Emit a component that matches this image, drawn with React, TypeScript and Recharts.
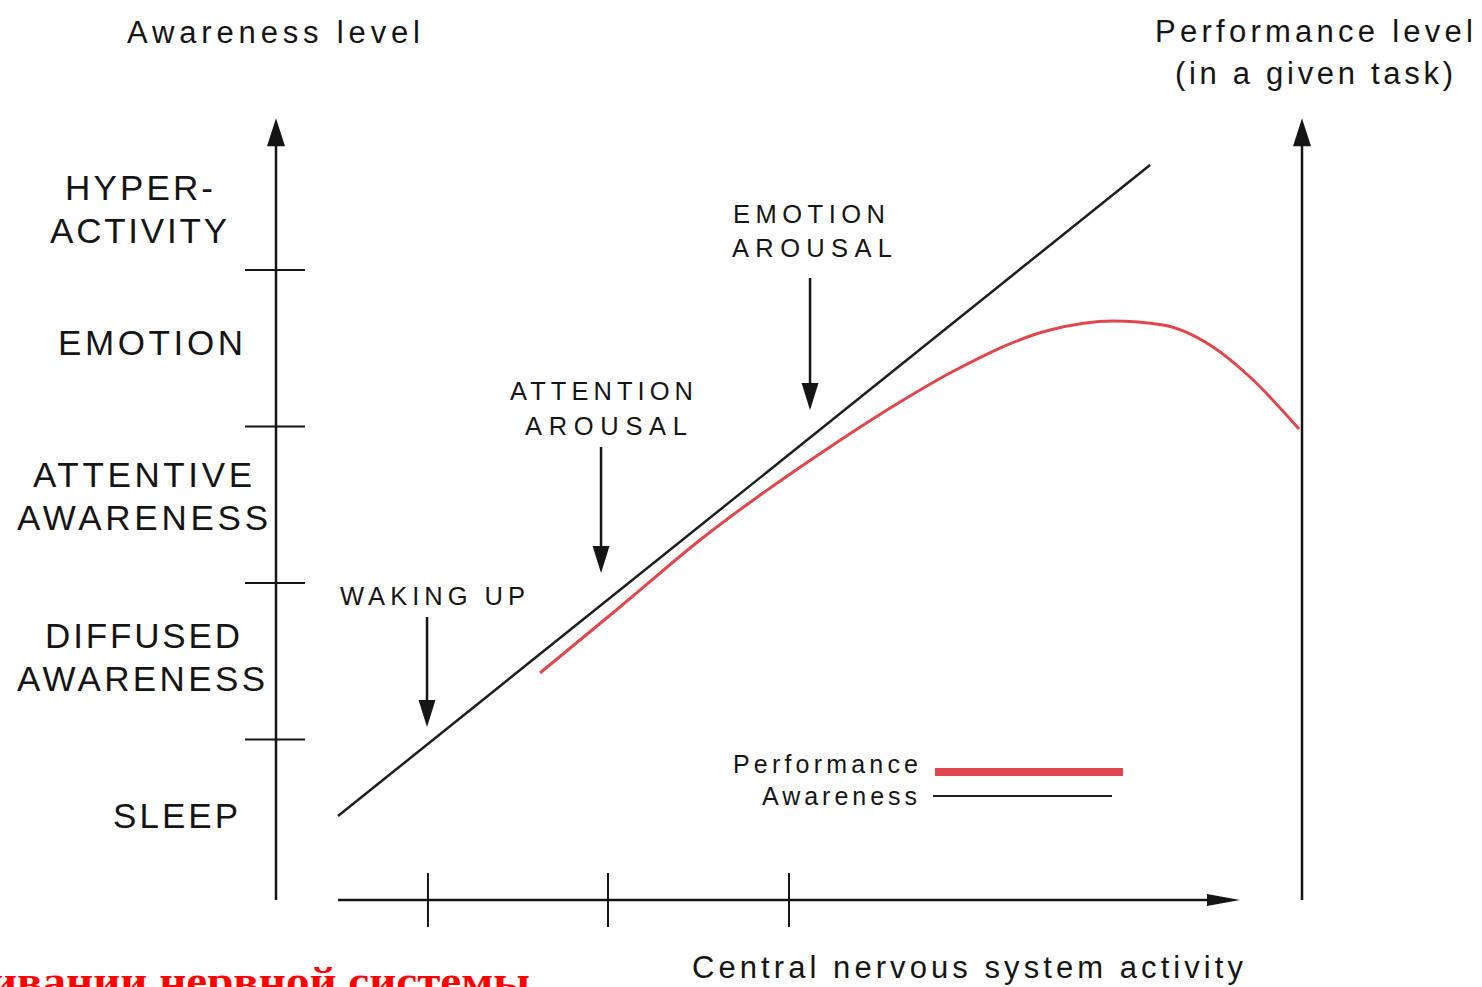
import React from 'react';
import { LineChart, Line, XAxis, YAxis, ReferenceLine, Legend, Customized } from 'recharts';

const W = 1482;
const H = 987;
const FONT = '"Liberation Sans", Arial, sans-serif';
const INK = '#151515';

// ---- data ----
const awarenessData = [
  { x: 6.04, awareness: 10.23 },
  { x: 85.19, awareness: 93.42 },
];

const performanceData = [
  { x: 25.73, performance: 28.51 },
  { x: 33.53, performance: 36.94 },
  { x: 41.33, performance: 45.5 },
  { x: 54.29, performance: 57.64 },
  { x: 60.82, performance: 63.13 },
  { x: 65.69, performance: 66.84 },
  { x: 75.44, performance: 72.33 },
  { x: 81.58, performance: 73.48 },
  { x: 86.45, performance: 72.97 },
  { x: 91.03, performance: 70.42 },
  { x: 94.93, performance: 66.33 },
  { x: 99.71, performance: 59.68 },
];

const levelBoundaries = [20, 40, 60, 80];
const levelTicks = [10.3, 30.5, 51.1, 70.7, 87.8];
const levelNames = [
  ['SLEEP'],
  ['DIFFUSED', 'AWARENESS'],
  ['ATTENTIVE', 'AWARENESS'],
  ['EMOTION'],
  ['HYPER-', 'ACTIVITY'],
];
const stageTicks = [14.81, 32.36, 50.0];
const stageArrows = [
  { x: 14.72, from: 35.66, to: 21.6 },
  { x: 31.68, from: 57.38, to: 41.28 },
  { x: 52.05, from: 78.98, to: 62.11 },
];
const stageNames = [['WAKING UP'], ['ATTENTION', 'AROUSAL'], ['EMOTION', 'AROUSAL']];

const X_DOMAIN: [number, number] = [0, 100];
const Y_DOMAIN: [number, number] = [-0.5, 100];

// ---- layout (styles/positions of text only) ----
const levelLayout = [
  { cx: [175.5], w: [125] },
  { cx: [142.5, 141], w: [195, 248] },
  { cx: [142.5, 142.5], w: [219, 251] },
  { cx: [150.5], w: [185] },
  { cx: [139, 138.5], w: [148, 177] },
];
const stageLayout = [
  [{ x1: 340, x2: 525, y: 605 }],
  [
    { x1: 510, x2: 693, y: 400 },
    { x1: 525, x2: 687, y: 435 },
  ],
  [
    { x1: 733, x2: 885, y: 223 },
    { x1: 732, x2: 892, y: 257 },
  ],
];
const titles = [
  { t: 'Awareness level', x1: 127, x2: 420, y: 43 },
  { t: 'Performance level', x1: 1155, x2: 1473, y: 42 },
  { t: '(in a given task)', x1: 1175, x2: 1453, y: 84 },
  { t: 'Central nervous system activity', x1: 692, x2: 1243, y: 978 },
];

const arrowShape = (head: number, half: number, sw: number) => (p: any) => {
  const { x1, y1, x2, y2 } = p;
  const dx = x2 - x1;
  const dy = y2 - y1;
  const len = Math.hypot(dx, dy) || 1;
  const ux = dx / len;
  const uy = dy / len;
  const bx = x2 - ux * head;
  const by = y2 - uy * head;
  const px = -uy * half;
  const py = ux * half;
  return (
    <g>
      <line x1={x1} y1={y1} x2={bx + ux * 2} y2={by + uy * 2} stroke={INK} strokeWidth={sw} />
      <polygon points={`${x2},${y2} ${bx + px},${by + py} ${bx - px},${by - py}`} fill={INK} />
    </g>
  );
};

const LevelTick = (props: any) => {
  const { y, payload } = props;
  const i = levelTicks.indexOf(payload.value);
  if (i < 0) return null;
  const lines = levelNames[i];
  const lay = levelLayout[i];
  const n = lines.length;
  return (
    <g>
      {lines.map((t, k) => (
        <text
          key={k}
          x={lay.cx[k]}
          y={y + 12.5 + (k - (n - 1) / 2) * 43}
          textAnchor="middle"
          textLength={lay.w[k]}
          lengthAdjust="spacing"
          fontSize={35}
          fontFamily={FONT}
          fill={INK}
        >
          {t}
        </text>
      ))}
    </g>
  );
};

const Annotations = () => (
  <g>
    {titles.map((t, i) => (
      <text
        key={'t' + i}
        x={t.x1}
        y={t.y}
        textLength={t.x2 - t.x1}
        lengthAdjust="spacing"
        fontSize={31}
        fontFamily={FONT}
        fill={INK}
      >
        {t.t}
      </text>
    ))}
    {stageNames.map((lines, i) =>
      lines.map((t, k) => {
        const l = stageLayout[i][k];
        return (
          <text
            key={'s' + i + '-' + k}
            x={l.x1}
            y={l.y}
            textLength={l.x2 - l.x1}
            lengthAdjust="spacing"
            fontSize={25.5}
            fontFamily={FONT}
            fill={INK}
          >
            {t}
          </text>
        );
      })
    )}
    <text
      x={-10}
      y={995}
      textLength={540}
      lengthAdjust="spacingAndGlyphs"
      fontSize={40}
      fontWeight="bold"
      fontFamily='"Liberation Serif", "Times New Roman", serif'
      fill="#ff0000"
    >
      ивании нервной системы
    </text>
  </g>
);

const LegendContent = (props: any) => {
  const payload: any[] = props.payload || [];
  const perf = payload.find((p) => p.value === 'Performance');
  const aw = payload.find((p) => p.value === 'Awareness');
  return (
    <svg width={420} height={80} style={{ display: 'block' }}>
      <text x={13} y={33} textLength={185} lengthAdjust="spacing" fontSize={25} fontFamily={FONT} fill={INK}>
        {perf ? perf.value : 'Performance'}
      </text>
      <line x1={215} y1={32} x2={403} y2={32} stroke={perf ? perf.color : '#e0474c'} strokeWidth={8} />
      <text x={42} y={65} textLength={155} lengthAdjust="spacing" fontSize={25} fontFamily={FONT} fill={INK}>
        {aw ? aw.value : 'Awareness'}
      </text>
      <line x1={213} y1={56} x2={392} y2={56} stroke={aw ? aw.color : INK} strokeWidth={2} />
    </svg>
  );
};

export default function App() {
  return (
    <div style={{ position: 'absolute', left: 0, top: 0, width: W, height: H, overflow: 'hidden', background: '#fff' }}>
      <LineChart width={W} height={H} margin={{ top: 113.5, right: 180, bottom: 87, left: 0 }}>
        <XAxis type="number" dataKey="x" domain={X_DOMAIN} hide allowDuplicatedCategory={false} />
        <YAxis
          type="number"
          domain={Y_DOMAIN}
          width={276}
          ticks={levelTicks}
          interval={0}
          axisLine={false}
          tickLine={false}
          tick={<LevelTick />}
        />
        {/* vertical axes with arrows */}
        <ReferenceLine
          segment={[{ x: 0, y: -0.5 }, { x: 0, y: 99.4 }]}
          ifOverflow="visible"
          shape={arrowShape(28, 9, 2.5)}
        />
        <ReferenceLine
          segment={[{ x: 100, y: -0.5 }, { x: 100, y: 99.4 }]}
          ifOverflow="visible"
          shape={arrowShape(28, 9, 2.5)}
        />
        {/* horizontal axis with arrow */}
        <ReferenceLine
          segment={[{ x: 6.04, y: -0.5 }, { x: 93.96, y: -0.5 }]}
          ifOverflow="visible"
          shape={arrowShape(33, 6, 2.5)}
        />
        {levelBoundaries.map((v) => (
          <ReferenceLine
            key={'lb' + v}
            segment={[{ x: -3.02, y: v }, { x: 2.83, y: v }]}
            ifOverflow="visible"
            stroke={INK}
            strokeWidth={2}
          />
        ))}
        {stageTicks.map((v) => (
          <ReferenceLine
            key={'st' + v}
            segment={[{ x: v, y: 2.95 }, { x: v, y: -3.95 }]}
            ifOverflow="visible"
            stroke={INK}
            strokeWidth={2}
          />
        ))}
        {stageArrows.map((a, i) => (
          <ReferenceLine
            key={'sa' + i}
            segment={[{ x: a.x, y: a.from }, { x: a.x, y: a.to }]}
            ifOverflow="visible"
            shape={arrowShape(27, 8.5, 2.5)}
          />
        ))}
        <Line
          data={awarenessData}
          dataKey="awareness"
          name="Awareness"
          type="linear"
          stroke="#1e1e1e"
          strokeWidth={2.5}
          dot={false}
          activeDot={false}
          isAnimationActive={false}
        />
        <Line
          data={performanceData}
          dataKey="performance"
          name="Performance"
          type="monotone"
          stroke="#e0474c"
          strokeWidth={3}
          dot={false}
          activeDot={false}
          isAnimationActive={false}
        />
        <Legend
          layout="vertical"
          align="center"
          verticalAlign="middle"
          content={<LegendContent />}
          wrapperStyle={{ left: 720, top: 740, width: 420, height: 80 }}
        />
        <Customized component={<Annotations />} />
      </LineChart>
    </div>
  );
}
